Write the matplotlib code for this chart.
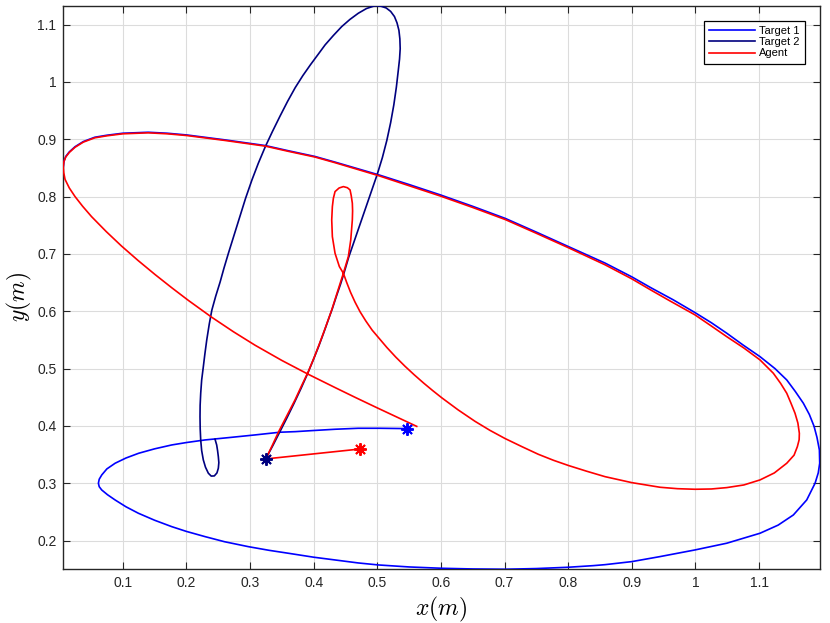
import matplotlib
matplotlib.use("Agg")
import matplotlib.pyplot as plt
from matplotlib.ticker import FuncFormatter

# Target 1 trajectory (starts at the blue asterisk)
target1_x = [0.5463, 0.504, 0.470, 0.434, 0.400, 0.371, 0.347, 0.308, 0.270, 0.229,
             0.200, 0.177, 0.150, 0.125, 0.105, 0.088, 0.075, 0.067, 0.063, 0.0617,
             0.063, 0.0669, 0.076, 0.0879, 0.105, 0.1245, 0.150, 0.177, 0.200, 0.2293,
             0.260, 0.2974, 0.330, 0.3602, 0.400, 0.4336, 0.470, 0.5017, 0.550, 0.6013,
             0.650, 0.7008, 0.750, 0.8003, 0.8396, 0.8579, 0.8999, 0.944, 0.9994, 1.0492,
             1.1015, 1.130, 1.1539, 1.1749, 1.188, 1.193, 1.1953, 1.1948, 1.191, 1.1864,
             1.179, 1.1696, 1.157, 1.1435, 1.125, 1.1015, 1.075, 1.0492, 1.025, 0.9994,
             0.965, 0.930, 0.900, 0.858, 0.800, 0.750, 0.701, 0.650, 0.599, 0.550,
             0.502, 0.434, 0.402, 0.360, 0.324, 0.260, 0.2005, 0.170, 0.140, 0.100,
             0.075, 0.056, 0.038, 0.025, 0.016, 0.0104, 0.0075, 0.0066]
target1_y = [0.3953, 0.3959, 0.3959, 0.3942, 0.392, 0.390, 0.389, 0.3843, 0.380, 0.3755,
             0.371, 0.3668, 0.360, 0.3523, 0.344, 0.3349, 0.325, 0.3145, 0.307, 0.300,
             0.294, 0.2883, 0.280, 0.2709, 0.259, 0.2477, 0.2355, 0.2243, 0.216, 0.2069,
             0.198, 0.1894, 0.183, 0.1779, 0.171, 0.1662, 0.161, 0.1575, 0.154, 0.1517,
             0.1505, 0.150, 0.1512, 0.1535, 0.1563, 0.158, 0.1633, 0.172, 0.1837, 0.1954,
             0.2128, 0.227, 0.2447, 0.2709, 0.300, 0.318, 0.335, 0.358, 0.380, 0.3994,
             0.420, 0.4396, 0.460, 0.4802, 0.500, 0.5208, 0.541, 0.5617, 0.580, 0.5976,
             0.620, 0.641, 0.660, 0.684, 0.713, 0.738, 0.762, 0.783, 0.803, 0.821,
             0.838, 0.860, 0.870, 0.880, 0.889, 0.899, 0.9075, 0.9105, 0.9122, 0.9105,
             0.907, 0.9035, 0.896, 0.887, 0.878, 0.870, 0.861, 0.852]

# Target 2 trajectory (starts at the navy asterisk)
target2_x = [0.3247, 0.336, 0.347, 0.358, 0.369, 0.380, 0.390, 0.399, 0.408, 0.416,
             0.423, 0.4295, 0.436, 0.4425, 0.4466, 0.455, 0.464, 0.473, 0.482, 0.491,
             0.500, 0.508, 0.515, 0.521, 0.526, 0.530, 0.533, 0.535, 0.536, 0.5355,
             0.534, 0.531, 0.527, 0.521, 0.514, 0.506, 0.4965, 0.483, 0.4702, 0.457,
             0.4441, 0.431, 0.418, 0.407, 0.395, 0.383, 0.371, 0.359, 0.347, 0.335,
             0.324, 0.313, 0.303, 0.293, 0.284, 0.275, 0.266, 0.259, 0.253, 0.246,
             0.240, 0.236, 0.232, 0.229, 0.2266, 0.224, 0.2225, 0.2216, 0.2214, 0.2217,
             0.2225, 0.224, 0.2266, 0.230, 0.2345, 0.239, 0.2439, 0.248, 0.2502, 0.251,
             0.2502, 0.249, 0.2476, 0.2450]
target2_y = [0.3424, 0.366, 0.390, 0.414, 0.439, 0.465, 0.490, 0.514, 0.539, 0.563,
             0.585, 0.605, 0.627, 0.648, 0.6625, 0.694, 0.723, 0.752, 0.781, 0.810,
             0.839, 0.868, 0.898, 0.929, 0.960, 0.991, 1.020, 1.040, 1.058, 1.075,
             1.090, 1.103, 1.114, 1.123, 1.129, 1.132, 1.133, 1.128, 1.1198, 1.109,
             1.0965, 1.081, 1.0646, 1.048, 1.030, 1.011, 0.990, 0.966, 0.940, 0.913,
             0.887, 0.858, 0.829, 0.797, 0.765, 0.733, 0.701, 0.675, 0.651, 0.626,
             0.602, 0.578, 0.550, 0.525, 0.503, 0.480, 0.457, 0.436, 0.416, 0.395,
             0.3755, 0.357, 0.3407, 0.328, 0.3175, 0.3125, 0.3128, 0.318, 0.3262, 0.336,
             0.3464, 0.357, 0.3668, 0.3768]

# Agent trajectory (starts at the red asterisk)
agent_x = [0.4735, 0.3247, 0.335, 0.345, 0.358, 0.3707, 0.381, 0.3916, 0.401, 0.410,
           0.419, 0.4284, 0.4375, 0.4467, 0.4545, 0.4583, 0.4608, 0.4612, 0.4608, 0.459,
           0.4572, 0.453, 0.4467, 0.440, 0.4336, 0.431, 0.4294, 0.4284, 0.4294, 0.4336,
           0.4404, 0.4467, 0.452, 0.458, 0.465, 0.473, 0.482, 0.492, 0.503, 0.515,
           0.529, 0.5436, 0.558, 0.573, 0.587, 0.6013, 0.627, 0.6536, 0.677, 0.7008,
           0.727, 0.7531, 0.777, 0.8003, 0.829, 0.8579, 0.8999, 0.9444, 0.972, 0.9994,
           1.025, 1.0492, 1.076, 1.1015, 1.124, 1.1435, 1.155, 1.1602, 1.163, 1.1633,
           1.161, 1.1565, 1.150, 1.1435, 1.134, 1.1224, 1.1015, 1.076, 1.0492, 1.024,
           0.9994, 0.960, 0.930, 0.900, 0.858, 0.800, 0.750, 0.701, 0.650, 0.599,
           0.550, 0.502, 0.434, 0.402, 0.360, 0.324, 0.260, 0.2005, 0.170, 0.140,
           0.100, 0.075, 0.056, 0.038, 0.025, 0.016, 0.0104, 0.0075, 0.0066, 0.0072,
           0.0093, 0.016, 0.025, 0.037, 0.051, 0.074, 0.098, 0.124, 0.151, 0.177,
           0.203, 0.240, 0.274, 0.308, 0.350, 0.392, 0.434, 0.466, 0.497, 0.530,
           0.562]
agent_y = [0.3598, 0.3424, 0.366, 0.390, 0.418, 0.4453, 0.470, 0.4947, 0.520, 0.546,
           0.573, 0.6023, 0.634, 0.6663, 0.6953, 0.7244, 0.7593, 0.775, 0.7884, 0.802,
           0.8116, 0.8155, 0.8174, 0.815, 0.8087, 0.797, 0.7825, 0.7593, 0.7302, 0.7012,
           0.6779, 0.6663, 0.650, 0.633, 0.616, 0.599, 0.583, 0.567, 0.5525, 0.5369,
           0.5201, 0.504, 0.4892, 0.4746, 0.4617, 0.4491, 0.428, 0.408, 0.3923, 0.378,
           0.364, 0.3505, 0.340, 0.331, 0.321, 0.3115, 0.3011, 0.293, 0.2905, 0.2895,
           0.290, 0.2924, 0.297, 0.3058, 0.318, 0.3349, 0.349, 0.3639, 0.376, 0.3872,
           0.405, 0.4221, 0.440, 0.457, 0.474, 0.4919, 0.5151, 0.536, 0.5557, 0.575,
           0.5936, 0.618, 0.637, 0.6565, 0.681, 0.711, 0.736, 0.760, 0.781, 0.801,
           0.819, 0.8365, 0.859, 0.869, 0.879, 0.888, 0.898, 0.9065, 0.9095, 0.9112,
           0.9095, 0.906, 0.9025, 0.895, 0.886, 0.877, 0.869, 0.861, 0.852, 0.842,
           0.830, 0.815, 0.800, 0.783, 0.765, 0.739, 0.7138, 0.6886, 0.6638, 0.641,
           0.619, 0.5894, 0.5642, 0.5407, 0.5142, 0.4898, 0.4667, 0.4494, 0.433, 0.4158,
           0.3992]

series_labels = ["Target 1", "Target 2", "Agent"]
series_colors = ["#0000ff", "#00007f", "#ff0000"]

x_ticks = [0.1, 0.2, 0.3, 0.4, 0.5, 0.6, 0.7, 0.8, 0.9, 1.0, 1.1]
y_ticks = [0.2, 0.3, 0.4, 0.5, 0.6, 0.7, 0.8, 0.9, 1.0, 1.1]

plt.rcParams["font.family"] = ["Liberation Sans", "DejaVu Sans"]
plt.rcParams["mathtext.fontset"] = "cm"

fig = plt.figure(figsize=(8.3, 6.23), dpi=100)
ax = fig.add_axes([0.0763, 0.0872, 0.9113, 0.9037])

paths = [(target1_x, target1_y), (target2_x, target2_y), (agent_x, agent_y)]
lines = []
for (xs, ys), label, color in zip(paths, series_labels, series_colors):
    line, = ax.plot(xs, ys, color=color, lw=1.2, label=label, zorder=3,
                    solid_joinstyle="round")
    lines.append(line)

# start markers
star = (8, 2, 0)
for (xs, ys), color in zip(paths, series_colors):
    ax.plot(xs[0], ys[0], marker=star, ms=9, mew=1.4, color=color, zorder=4)

ax.set_xlim(0.0066, 1.1953)
ax.set_ylim(0.151, 1.133)
ax.set_xticks(x_ticks)
ax.set_yticks(y_ticks)
fmt = FuncFormatter(lambda v, p: "{:g}".format(round(v, 2)))
ax.xaxis.set_major_formatter(fmt)
ax.yaxis.set_major_formatter(fmt)

ax.tick_params(direction="in", length=5, width=0.8, top=True, right=True,
               labelsize=10, colors="#262626", pad=5)
ax.grid(True, color="#dcdcdc", lw=0.8)
ax.set_axisbelow(True)
for sp in ax.spines.values():
    sp.set_color("#262626")
    sp.set_linewidth(1.0)

ax.set_xlabel(r"$x(m)$", fontsize=17)
ax.set_ylabel(r"$y(m)$", fontsize=17)
ax.xaxis.set_label_coords(0.5, -0.046)
ax.yaxis.set_label_coords(-0.039, 0.482)

leg = ax.legend(lines, series_labels, loc="upper right", bbox_to_anchor=(0.9806, 0.9734),
                fontsize=8, handlelength=4.1, handletextpad=0.36, borderpad=0.5,
                labelspacing=0.1, borderaxespad=0, fancybox=False, framealpha=1)
leg.get_frame().set_edgecolor("black")
leg.get_frame().set_linewidth(0.9)

fig.savefig("out.png", dpi=100)
